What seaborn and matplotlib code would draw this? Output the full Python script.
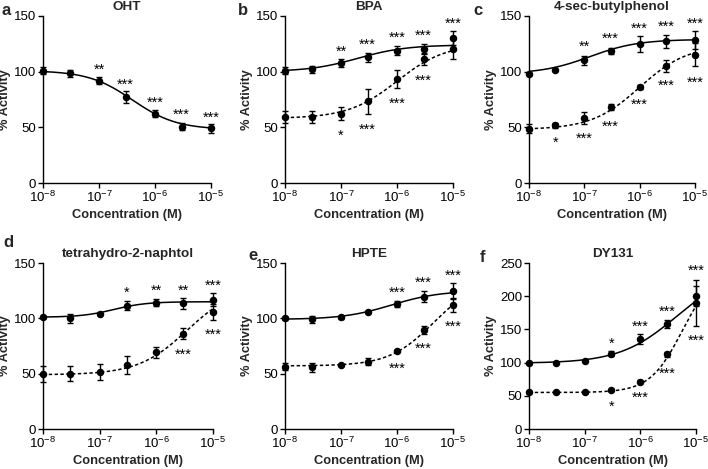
import numpy as np
import pandas as pd
import matplotlib
matplotlib.use("Agg")
import matplotlib.pyplot as plt
import matplotlib.transforms as mtransforms
import seaborn as sns

# ---------------- data ----------------
conc = [1e-8, 3e-8, 1e-7, 3e-7, 1e-6, 3e-6, 1e-5]
xtick_vals = [1e-8, 1e-7, 1e-6, 1e-5]
xtick_labels = [r"$\mathregular{10^{-8}}$", r"$\mathregular{10^{-7}}$",
                r"$\mathregular{10^{-6}}$", r"$\mathregular{10^{-5}}$"]
panel_letters = ["a", "b", "c", "d", "e", "f"]
titles = ["OHT", "BPA", "4-sec-butylphenol", "tetrahydro-2-naphtol", "HPTE", "DY131"]

# series (mean, sem)
oht_mean = [100.9, 98.5, 91.9, 77.2, 62.3, 50.6, 49.1]
oht_err = [3, 3, 3, 5, 3, 3, 4]
bpa_mean = [100.9, 102.0, 107.8, 113.0, 118.9, 120.7, 130.2]
bpa_err = [3, 3, 4, 4, 4, 4, 6]
bpa_d_mean = [59.3, 59.3, 62.3, 73.4, 93.1, 111.0, 120.7]
bpa_d_err = [5, 5, 6, 11, 8, 5, 9]
sbp_mean = [97.6, 101.8, 110.2, 118.6, 124.6, 127.2, 128.1]
sbp_err = [1, 1, 4, 3, 7, 6, 8]
sbp_d_mean = [48.8, 51.8, 58.4, 68.3, 86.2, 105.1, 115.3]
sbp_d_err = [4, 2, 5, 3, 2, 5, 10]
thn_mean = [101.4, 99.9, 103.8, 111.3, 114.3, 113.7, 116.7]
thn_err = [1, 4, 1, 4, 3, 5, 6]
thn_d_mean = [49.8, 50.1, 51.6, 57.6, 69.3, 86.1, 105.9]
thn_d_err = [7, 7, 7, 8, 5, 5, 7]
hpte_mean = [99.9, 99.0, 100.8, 105.9, 112.8, 119.7, 125.1]
hpte_err = [1, 3, 1, 1, 3, 5, 7]
hpte_d_mean = [56.4, 55.8, 57.6, 60.9, 70.2, 89.4, 111.9]
hpte_d_err = [3, 4, 1, 3, 1, 4, 6]
dy_mean = [99.0, 100.0, 102.5, 113.5, 135.5, 158.0, 200.0]
dy_err = [1, 1, 2, 4, 7, 6, 15]
dy_d_mean = [55.0, 55.0, 55.0, 58.0, 71.5, 112.5, 190.0]
dy_d_err = [1, 1, 1, 1, 2, 4, 35]

# fitted curve parameters: bottom, top, logEC50, hill
oht_fit = [48, 101, -6.4, -1.1]
bpa_fit = [100, 124, -6.7, 1.0]
bpa_d_fit = [58, 125, -6.0, 1.0]
sbp_fit = [98, 129, -6.9, 1.0]
sbp_d_fit = [48, 124, -6.0, 1.0]
thn_fit = [101, 115, -6.75, 1.5]
thn_d_fit = [49, 130, -5.45, 1.0]
hpte_fit = [99, 125, -6.1, 1.0]
hpte_d_fit = [57, 135, -5.35, 1.1]
dy_fit = [99, 240, -5.35, 0.85]
dy_d_fit = [55, 240, -5.25, 1.5]

# significance stars: (conc, y, text)
oht_stars = [(1e-7, 105, "**"), (3e-7, 91.6, "***"), (1e-6, 75, "***"), (3e-6, 64, "***"), (1e-5, 62, "***")]
bpa_stars = [(1e-7, 121, "**"), (3e-7, 127.5, "***"), (1e-6, 134, "***"), (3e-6, 135, "***"), (1e-5, 146, "***"),
             (1e-7, 45.5, "*"), (3e-7, 51, "***"), (1e-6, 74, "***"), (3e-6, 94.6, "***")]
sbp_stars = [(1e-7, 125.7, "**"), (3e-7, 133, "***"), (1e-6, 141.6, "***"), (3e-6, 143.7, "***"), (1e-5, 146, "***"),
             (3e-8, 39, "*"), (1e-7, 42.8, "***"), (3e-7, 54, "***"), (1e-6, 73.4, "***"), (3e-6, 90, "***"), (1e-5, 93.4, "***")]
thn_stars = [(3e-7, 126.3, "*"), (1e-6, 127.8, "**"), (3e-6, 127.8, "**"), (1e-5, 132.6, "***"),
             (3e-6, 70, "***"), (1e-5, 88, "***")]
hpte_stars = [(1e-6, 126.3, "***"), (3e-6, 135, "***"), (1e-5, 141.3, "***"),
              (1e-6, 57.3, "***"), (3e-6, 75.9, "***"), (1e-5, 95.4, "***")]
dy_stars = [(3e-7, 134, "*"), (1e-6, 159, "***"), (3e-6, 182.5, "***"), (1e-5, 243, "***"),
            (3e-7, 38, "*"), (1e-6, 51.5, "***"), (3e-6, 89, "***"), (1e-5, 137.5, "***")]

y_maxes = [150, 150, 150, 150, 150, 250]
y_ticks = [[0, 50, 100, 150]] * 5 + [[0, 50, 100, 150, 200, 250]]

panels = [
    [(oht_mean, oht_err, oht_fit, "-")],
    [(bpa_mean, bpa_err, bpa_fit, "-"), (bpa_d_mean, bpa_d_err, bpa_d_fit, "--")],
    [(sbp_mean, sbp_err, sbp_fit, "-"), (sbp_d_mean, sbp_d_err, sbp_d_fit, "--")],
    [(thn_mean, thn_err, thn_fit, "-"), (thn_d_mean, thn_d_err, thn_d_fit, "--")],
    [(hpte_mean, hpte_err, hpte_fit, "-"), (hpte_d_mean, hpte_d_err, hpte_d_fit, "--")],
    [(dy_mean, dy_err, dy_fit, "-"), (dy_d_mean, dy_d_err, dy_d_fit, "--")],
]
stars = [oht_stars, bpa_stars, sbp_stars, thn_stars, hpte_stars, dy_stars]

# ---------------- style ----------------
sns.set_theme(style="ticks")
plt.rcParams["font.family"] = ["Liberation Sans", "DejaVu Sans"]
plt.rcParams["mathtext.fontset"] = "custom"
plt.rcParams["mathtext.rm"] = "Liberation Sans"
plt.rcParams["mathtext.bf"] = "Liberation Sans:bold"
plt.rcParams["axes.linewidth"] = 1.0

W, H = 708, 469
fig = plt.figure(figsize=(W / 100, H / 100), dpi=100)

# axes pixel boxes (left, top, right, bottom)
boxes = [(43, 16, 211, 183), (285, 16, 453, 183), (529, 16, 695, 183),
         (43, 263, 213, 429), (285, 263, 453, 429), (529, 263, 696, 429)]
letter_pos = [(2, 15), (238, 15), (473, 15), (3, 247), (248, 260), (480, 262)]


def logistic(logx, p):
    bottom, top, ec, h = p
    return bottom + (top - bottom) / (1 + 10 ** ((ec - logx) * h))


logx_dense = np.linspace(-8, -5, 200)

for i, (box, series, st) in enumerate(zip(boxes, panels, stars)):
    l, t, r, b = box
    ax = fig.add_axes([l / W, 1 - b / H, (r - l) / W, (b - t) / H])
    for mean, err, fit, ls in series:
        curve = pd.DataFrame({"x": 10 ** logx_dense, "y": logistic(logx_dense, fit)})
        sns.lineplot(data=curve, x="x", y="y", ax=ax, color="black", lw=1.1)
        if ls == "--":
            ax.lines[-1].set_dashes([2.2, 1.6])
        ax.errorbar(conc, mean, yerr=err, fmt="o", color="black", ms=4.4,
                    elinewidth=1.0, capsize=2.4, capthick=1.0, clip_on=False, zorder=3)
    star_tr = mtransforms.offset_copy(ax.transData, fig=fig, x=0, y=-2.5, units="points")
    for (cx, cy, s) in st:
        ax.text(cx, cy, s, ha="center", va="center", fontsize=10.5, color="black",
                transform=star_tr)
    ax.set_xscale("log")
    ax.set_xlim(1e-8, 1e-5)
    ax.set_ylim(0, y_maxes[i])
    ax.set_xticks(xtick_vals)
    ax.set_xticklabels(xtick_labels)
    ax.xaxis.set_minor_locator(matplotlib.ticker.NullLocator())
    ax.set_yticks(y_ticks[i])
    ax.tick_params(axis="both", which="major", direction="out", length=3.5, width=1.0,
                   labelsize=9.5, pad=1.5, colors="black")
    for sp in ["top", "right"]:
        ax.spines[sp].set_visible(False)
    for sp in ["left", "bottom"]:
        ax.spines[sp].set_color("black")
    ax.set_xlabel("Concentration (M)", fontsize=9.3, fontweight="bold", labelpad=3)
    ax.set_ylabel("% Activity", fontsize=9.3, fontweight="bold", labelpad=2)
    ax.set_title(titles[i], fontsize=9.7, fontweight="bold", pad=4)
    lx, ly = letter_pos[i]
    fig.text(lx / W, 1 - ly / H, panel_letters[i], fontsize=12, fontweight="bold",
             ha="left", va="baseline")

fig.savefig("out.png", dpi=100)
